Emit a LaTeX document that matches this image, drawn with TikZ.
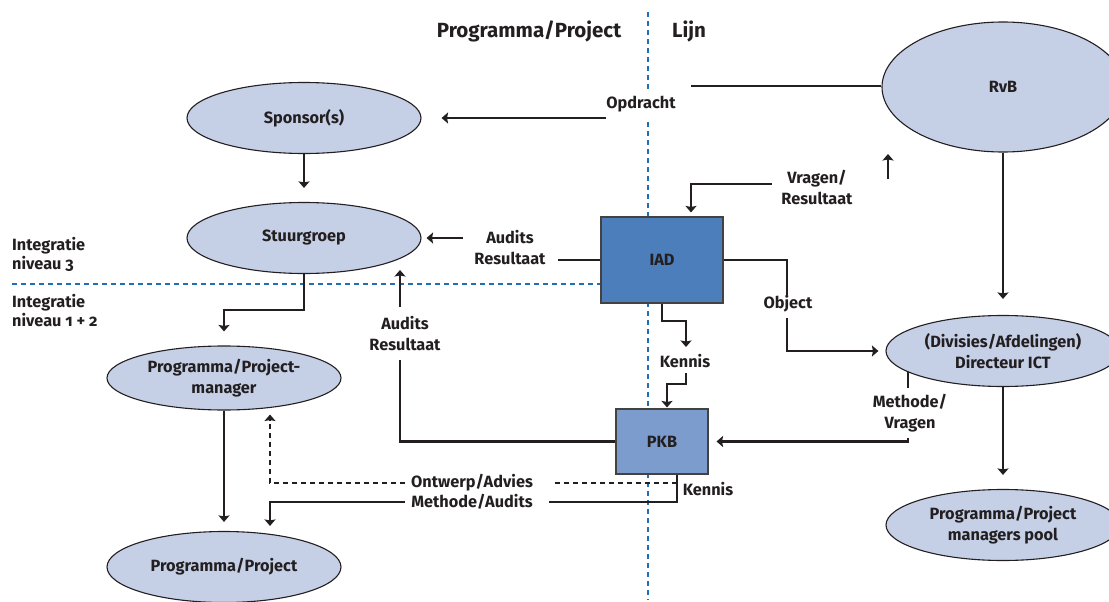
\documentclass[tikz,border=0pt]{standalone}
\usepackage{fontspec}
\setmainfont{Fira Sans}[Numbers=OldStyle]
\usetikzlibrary{shapes.geometric,arrows.meta,calc,backgrounds}
\definecolor{ink}{HTML}{231F20}
\definecolor{ovalfill}{HTML}{C5D0E7}
\definecolor{iadfill}{HTML}{4C7EBB}
\definecolor{pkbfill}{HTML}{7B9CCC}
\definecolor{sepblue}{HTML}{1F6EB6}

\begin{document}
\begin{tikzpicture}[x=1pt,y=-1pt,
  every node/.style={font=\fontsize{16.3}{21}\selectfont\bfseries, text=ink, inner sep=0pt},
  oval/.style={ellipse, draw=ink, line width=1.1pt, fill=ovalfill,
               minimum width=234pt, minimum height=71pt},
  unitbox/.style={rectangle, draw=ink!85, line width=1.1pt, align=center},
  lbl/.style={align=center},
  header/.style={font=\fontsize{20.5}{24}\selectfont\bfseries},
  levellbl/.style={align=left, anchor=west, font=\fontsize{16.3}{19}\selectfont\bfseries},
  conn/.style={draw=ink, line width=2.1pt},
  arr/.style={conn, -{Stealth[length=6.5pt,width=11pt,inset=1pt]}},
  dashconn/.style={conn, dash pattern=on 5pt off 4pt},
  sep/.style={draw=sepblue, line width=2.8pt, dash pattern=on 5pt off 4pt},
]
\useasboundingbox (0,0) rectangle (1109,602);
\clip (0,0) rectangle (1109,602);

% column headers
\node[header] (hdrPP) at (529,31) {Programma/Project};
\node[header] (hdrLijn) at (689,31) {Lijn};

% organisation units
\node[oval, label=center:Sponsor(s)] (sponsor) at (304,118) {};
\node[oval, label=center:Stuurgroep] (stuur) at (304,238) {};
\node[oval, minimum height=64pt,
      label={[align=center]center:Programma/Project-\\manager}] (pm) at (224,378) {};
\node[oval, label=center:Programma/Project] (pp) at (224,567) {};
\node[oval, minimum width=242pt, minimum height=130pt, label=center:RvB] (rvb) at (1003,87) {};
\node[oval, label={[align=center]center:(Divisies/Afdelingen)\\Directeur ICT}] (dir) at (1003,351) {};
\node[oval, label={[align=center]center:Programma/Project\\managers pool}] (pool) at (1003,525) {};
\node[unitbox, fill=iadfill, minimum width=122pt, minimum height=86pt] (iad) at (662,260) {IAD};
\node[unitbox, fill=pkbfill, minimum width=92pt, minimum height=65pt] (pkb) at (662,441.5) {PKB};

% level labels
\node[levellbl] (intA) at (12,254) {Integratie\\niveau 3};
\node[levellbl] (intB) at (12,310.5) {Integratie\\niveau 1 + 2};

% flow labels
\node[lbl] (tOpdracht) at (641,104) {Opdracht};
\node[lbl] (tVragen) at (817,187.5) {Vragen/\\Resultaat};
\node[lbl] (tAuditsA) at (510,247.5) {Audits\\Resultaat};
\node[lbl] (tAuditsB) at (405,334) {Audits\\Resultaat};
\node[lbl] (tKennisA) at (685,361) {Kennis};
\node[lbl] (tObject) at (788,304) {Object};
\node[lbl] (tMethV) at (910,413) {Methode/\\Vragen};
\node[lbl] (tOntwerp) at (472,483) {Ontwerp/Advies};
\node[lbl] (tMethA) at (472,502) {Methode/Audits};
\node[lbl] (tKennisB) at (708,489) {Kennis};

% white page, then the separators between the levels and between
% project and line organisation, all behind the units
\begin{scope}[on background layer]
  \fill[white] (0,0) rectangle (1109,602);
  \coordinate (vTop) at (648,12);
  \coordinate (vGapA) at (648,89);
  \coordinate (vGapB) at (648,122);
  \coordinate (vBot) at (648,600);
  \coordinate (hLeft) at (12,284);
  \draw[sep] (vTop) -- (vGapA);
  \draw[sep] (vGapB) -- (vBot);
  \draw[sep] (hLeft) -- (hLeft -| iad.west);
\end{scope}

% Opdracht: RvB -> Sponsor(s)
\coordinate (opA) at (691,86);
\coordinate (opB) at (606,118);
\draw[conn] (rvb.west |- opA) -- (opA);
\draw[arr, shorten >=20pt] (opB) -- (sponsor.east);

% hierarchy on the project side
\draw[arr, shorten >=14pt] (sponsor.south) -- (stuur.north);
\draw[arr, shorten >=14pt] (stuur.south) -- ++(0,36) -| (pm.north);
\draw[arr, shorten >=9pt] (pm.south) -- (pp.north);

% Audits / Resultaat: IAD -> Stuurgroep
\coordinate (auA) at (558,260);
\coordinate (auB) at (463,238);
\draw[conn] (iad.west) -- (auA);
\draw[arr, shorten >=5pt] (auB) -- (stuur.east);

% Audits / Resultaat: PKB -> Stuurgroep
\coordinate (abA) at (400,360);
\coordinate (abB) at (400,307);
\coordinate (abC) at (400,270);
\draw[conn] (pkb.west) -| (abA);
\draw[arr] (abB) -- (abC);

% Vragen / Resultaat into IAD
\coordinate (vrA) at (772,184);
\coordinate (vrB) at (691,184);
\draw[arr, shorten >=4pt] (vrA) -- (vrB) -- (vrB |- iad.north);

% loose upward arrow below RvB
\coordinate (upA) at (888,179);
\coordinate (upB) at (888,154);
\draw[arr, line width=1.4pt] (upA) -- (upB);

% line organisation
\draw[arr, shorten >=16pt] (rvb.south) -- (dir.north);
\draw[arr, shorten >=14pt] (dir.south) -- (pool.north);

% Object: IAD -> Directeur ICT
\coordinate (obA) at (787,295);
\coordinate (obB) at (787,318);
\draw[conn] (iad.east) -| (obA);
\draw[arr, shorten >=7pt] (obB) |- (dir.west);

% Kennis: IAD -> PKB
\coordinate (knA) at (686,347);
\coordinate (knB) at (686,373);
\draw[arr] (iad.south) -- ++(0,17) -| (knA);
\draw[arr, shorten >=1pt] (knB) -- ++(0,11) -| ($(pkb.north)+(5,0)$);

% Methode / Vragen: Directeur ICT -> PKB
\coordinate (mvA) at (908,388);
\coordinate (mvB) at (908,438);
\draw[conn] (mvA |- dir.192.5) -- (mvA);
\draw[arr, shorten >=8pt] (mvB) |- (pkb.east);

% Kennis out of PKB: Methode/Audits and Ontwerp/Advies
\coordinate (pkOut) at (677,502);
\coordinate (maA) at (549,502);
\coordinate (maB) at (405,502);
\draw[conn] (pkb.south -| pkOut) -- (pkOut) -- (maA);
\draw[arr, shorten >=5pt] (maB) -| ($(pp.north)+(46,0)$);

\coordinate (oaA) at (677,483);
\coordinate (oaB) at (552,483);
\coordinate (oaC) at (405,483);
\draw[dashconn] (oaA) -- (oaB);
\draw[dashconn, -{Stealth[length=6.5pt,width=11pt,inset=1pt]}, shorten >=4pt] (oaC) -| ($(pm.south)+(46,0)$);
\end{tikzpicture}
\end{document}
